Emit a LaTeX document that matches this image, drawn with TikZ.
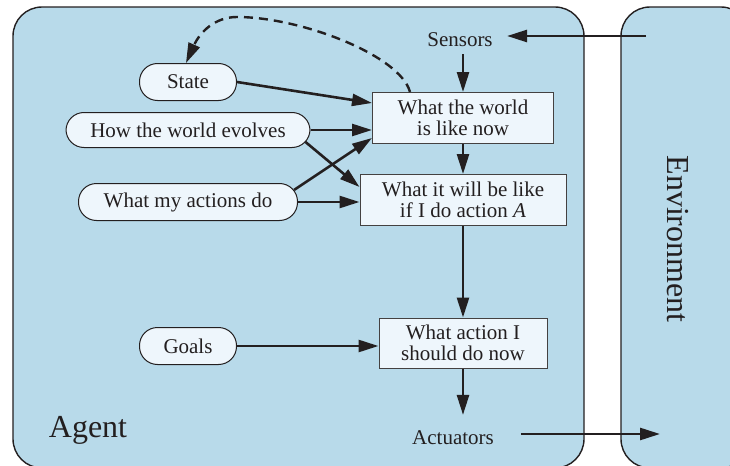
\documentclass[tikz,border=0pt]{standalone}
\usepackage{fontspec}
\setmainfont{Liberation Serif}
\usetikzlibrary{arrows.meta,calc}
\definecolor{bgblue}{HTML}{B8DAEA}
\definecolor{nodefill}{HTML}{EEF6FC}
\definecolor{ink}{HTML}{231F20}
\begin{document}
\begin{tikzpicture}[x=0.5pt,y=-0.5pt,
  every node/.style={text=ink,font=\fontsize{10.5}{10.5}\selectfont},
  panel/.style={fill=bgblue,draw=ink,line width=0.7pt,rounded corners=14.5pt},
  box/.style={draw=ink!85,fill=nodefill,line width=0.5pt,align=center,inner sep=0pt,minimum height=25.5pt},
  pill/.style={draw=ink,fill=nodefill,line width=0.5pt,rounded corners=9pt,inner sep=0pt,minimum height=18.5pt},
  conn/.style={draw=ink,line width=1.3pt,-{Triangle[length=10pt,width=6pt]}},
  dashcurve/.style={draw=ink,line width=1.2pt,dash pattern=on 4.5pt off 3pt,-{Triangle[length=10pt,width=6pt]}},
  bigtext/.style={font=\fontsize{16}{16}\selectfont}
]
\useasboundingbox (0,0) rectangle (730,466);
\begin{scope}
  \clip (0,0) rectangle (730,466);
  \path[panel] (13,7) rectangle (584,468);
  \path[panel] (621,7) rectangle (750,468);
\end{scope}

\node[inner xsep=7pt] (sensors) at (460,40) {Sensors};
\node[box,minimum width=90.5pt] (world) at (463,118) {What the world\\is like now};
\node[box,minimum width=103pt] (future) at (463,200) {What it will be like\\if I do action \textit{A}};
\node[box,minimum width=84pt,minimum height=25pt] (action) at (463,343) {What action I\\should do now};
\node (actuators) at (453,438) {Actuators};
\node[pill,minimum width=48.5pt] (state) at (188,82) {State};
\node[pill,minimum width=122pt,minimum height=17.5pt] (evolves) at (188,130) {How the world evolves};
\node[pill,minimum width=109.5pt] (mydo) at (188,202) {What my actions do};
\node[pill,minimum width=48.5pt] (goals) at (188,346) {Goals};
\node[bigtext] (agent) at (88,430) {Agent};
\node[bigtext,rotate=-90] (env) at (678,239) {Environment};

\coordinate (envin) at (646,36);
\coordinate (actout) at (660,434);
\coordinate (peak) at (237,17);

\draw[conn] (envin) -- (envin -| sensors.east);
\draw[conn] (sensors.south -| world.north) -- (world.north);
\draw[conn] (world.south) -- (future.north);
\draw[conn] (future.south) -- (action.north);
\draw[conn,shorten >=4.5pt] (action.south) -- (action.south |- actuators.north);
\draw[conn] ($(actuators.east |- actout)+(20,0)$) -- (actout);

\draw[conn] (state.east) -- ([yshift=7.5pt]world.west);
\draw[conn] (evolves.east) -- (evolves.east -| world.west);
\draw[conn] ([xshift=-2.5pt,yshift=-6pt]evolves.east) -- ([yshift=6.5pt]future.west);
\draw[conn] ([xshift=-2pt,yshift=6pt]mydo.east) -- ([yshift=-10pt]world.west);
\draw[conn] (mydo.east) -- (mydo.east -| future.west);
\draw[conn] (goals.east) -- (goals.east -| action.west);

\draw[dashcurve] ([xshift=-26.5pt]world.north) .. controls (400,55) and (300,17) .. (peak)
  .. controls (215,17) and (200,32) .. ([xshift=-1pt]state.north);
\end{tikzpicture}
\end{document}
